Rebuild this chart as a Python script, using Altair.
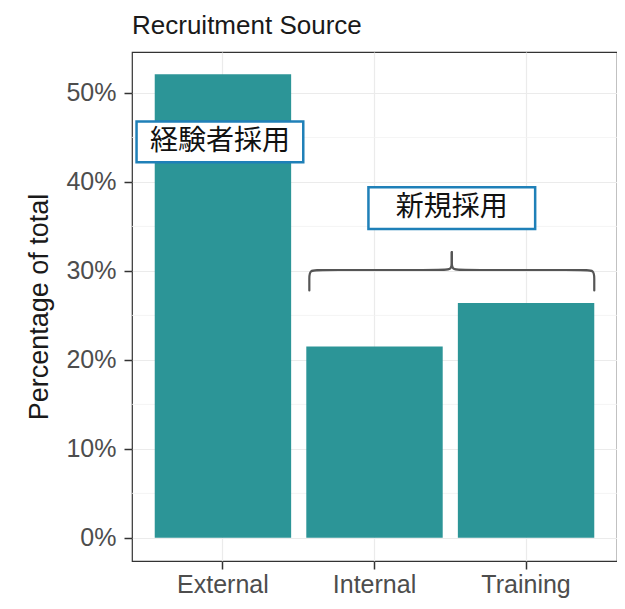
import altair as alt
import pandas as pd

# ---- data ----
categories = ["External", "Internal", "Training"]
percent = [52.1, 21.5, 26.4]

y_major = [0, 10, 20, 30, 40, 50]
y_minor = [5, 15, 25, 35, 45]

# annotation boxes (position units: categories at 1,2,3)
box_labels = ["経験者採用", "新規採用"]
box_x1 = [0.43, 1.96]
box_x2 = [1.53, 3.06]
box_y1 = [42.2, 34.7]
box_y2 = [46.8, 39.4]
box_tx = [0.98, 2.51]
box_ty = [44.5, 37.05]

# curly brace control points (two halves)
brace_side = ["L"] * 8 + ["R"] * 8
brace_x = [1.57, 1.57, 1.57, 1.64, 2.44, 2.51, 2.51, 2.51,
           3.45, 3.45, 3.45, 3.38, 2.58, 2.51, 2.51, 2.51]
brace_y = [27.8, 29.2, 30.1, 30.1, 30.1, 30.1, 31.0, 32.1,
           27.8, 29.2, 30.1, 30.1, 30.1, 30.1, 31.0, 32.1]
brace_order = list(range(8)) + list(range(8))

BAR = "#2c9597"
BLUE = "#1f80b8"
LATIN = "Liberation Sans"
CJK = "Noto Sans CJK JP"

bars_df = pd.DataFrame({"source": categories, "pct": percent})
minor_df = pd.DataFrame({"v": y_minor})
box_df = pd.DataFrame({"label": box_labels, "x1": box_x1, "x2": box_x2,
                       "y1": box_y1, "y2": box_y2, "tx": box_tx, "ty": box_ty})
brace_df = pd.DataFrame({"side": brace_side, "bx": brace_x, "by": brace_y, "o": brace_order})

yscale = alt.Scale(domain=[-2.6, 54.6], nice=False, zero=False)
qx = alt.Scale(domain=[0.4, 3.6], nice=False, zero=False)

yaxis = alt.Axis(values=y_major, labelExpr="datum.value + '%'",
                 title="Percentage of total", titleFontSize=27, titleFont=LATIN,
                 titleFontWeight="normal", titleColor="#1a1a1a", titlePadding=12,
                 labelFontSize=25, labelColor="#4d4d4d", labelFont=LATIN,
                 tickColor="#333333", tickSize=8, tickWidth=1.5, labelPadding=8,
                 grid=True, gridColor="#ebebeb", gridWidth=1.2, domain=False)

minor = alt.Chart(minor_df).mark_rule(color="#f1f1f1", strokeWidth=0.8).encode(
    y=alt.Y("v:Q", scale=yscale, axis=yaxis)
)

bars = alt.Chart(bars_df).mark_bar(color=BAR).encode(
    x=alt.X("source:N", sort=categories,
            scale=alt.Scale(paddingInner=0.1, paddingOuter=0.15),
            axis=alt.Axis(title=None, labelAngle=0, labelFontSize=25, labelColor="#4d4d4d",
                          labelFont=LATIN, tickColor="#333333", tickSize=8, tickWidth=1.5,
                          labelPadding=3, grid=True, gridColor="#ebebeb", gridWidth=1.2,
                          domain=False, bandPosition=0.5)),
    y=alt.Y("pct:Q", scale=yscale, axis=yaxis),
)

brace = alt.Chart(brace_df).mark_line(color="#555555", strokeWidth=2.2, interpolate="basis",
                                      strokeCap="round").encode(
    x=alt.X("bx:Q", scale=qx, axis=None),
    y=alt.Y("by:Q", scale=yscale, axis=yaxis),
    detail="side:N",
    order=alt.Order("o:Q"),
)

boxes = alt.Chart(box_df).mark_rect(fill="white", stroke=BLUE, strokeWidth=2.5).encode(
    x=alt.X("x1:Q", scale=qx, axis=None), x2="x2:Q",
    y=alt.Y("y1:Q", scale=yscale, axis=yaxis), y2="y2:Q",
)

texts = alt.Chart(box_df).mark_text(font=CJK, fontSize=28, color="#111111",
                                    baseline="middle", align="center").encode(
    x=alt.X("tx:Q", scale=qx, axis=None),
    y=alt.Y("ty:Q", scale=yscale, axis=yaxis),
    text="label:N",
)

annot = alt.layer(brace, boxes, texts)

chart = alt.layer(minor, bars, annot).resolve_scale(x="independent").properties(
    width=485, height=509,
    title=alt.TitleParams("Recruitment Source", anchor="start", frame="group", fontSize=26,
                          font=LATIN, fontWeight="normal", color="#1a1a1a", offset=13),
    autosize=alt.AutoSizeParams(type="none"),
    padding={"left": 124, "top": 44, "right": 0, "bottom": 38},
).configure_view(stroke="#333333", strokeWidth=1.2)

chart.save("out.html", embed_options={"renderer": "svg", "actions": False})
